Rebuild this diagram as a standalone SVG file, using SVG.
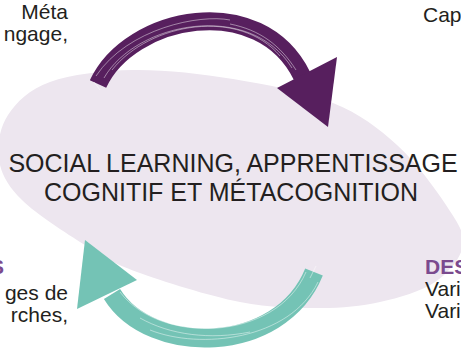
<svg xmlns="http://www.w3.org/2000/svg" width="461" height="350" viewBox="0 0 461 350">
  <style>
    .txt { font-family: "Liberation Sans", Arial, sans-serif; fill: #231f20; }
    .side { font-size: 21px; }
    .head { font-family: "Liberation Sans", Arial, sans-serif; font-weight: bold; font-size: 21px; fill: #7b4a8e; }
    .center { font-size: 25px; text-anchor: middle; }
    .purple { stroke: #571f5e; fill: none; stroke-width: 18; }
    .purpleHead { fill: #571f5e; }
    .teal { stroke: #74c3b5; fill: none; stroke-width: 19; }
    .tealHead { fill: #74c3b5; }
    .streak { stroke: #ffffff; fill: none; stroke-width: 1; stroke-opacity: 0.45; }
  </style>

  <g id="center-node">
    <path fill="#ede6ef" d="M133,70 C163.5,69.5 199.7,73.5 233,79 C266.3,84.5 305.7,92 333,103 C360.3,114 378.2,128 397,145 C415.8,162 435,188.3 446,205 C457,221.7 464.8,232.2 463,245 C461.2,257.8 448.8,272.5 435,282 C421.2,291.5 399.2,297.7 380,302 C360.8,306.3 343.3,308 320,308 C296.7,308 270.5,308 240,302 C209.5,296 162.8,281.5 137,272 C111.2,262.5 104.2,257 85,245 C65.8,233 36.3,214.2 22,200 C7.7,185.8 1.3,174.2 -1,160 C-3.3,145.8 -0.5,128 8,115 C16.5,102 29.2,89.5 50,82 C70.8,74.5 102.5,70.5 133,70 Z"/>
    <text class="txt center" x="233" y="172">SOCIAL LEARNING, APPRENTISSAGE</text>
    <text class="txt center" x="231" y="201">COGNITIF ET MÉTACOGNITION</text>
  </g>

  <g id="connectors">
    <g id="arrow-top">
      <path class="purple" d="M98,84 C130,15 260,-10 302,76"/>
      <path class="streak" d="M104,78 C136,22 250,0 292,68"/>
      <path class="streak" d="M112,70 C150,22 240,8 280,56"/>
      <path class="streak" d="M96,76 C128,28 200,14 230,20"/>
      <path class="streak" d="M230,24 C260,30 280,45 296,70"/>
      <line class="streak" x1="94" y1="82" x2="100" y2="90"/>
      <polygon class="purpleHead" points="277,88 337,57 328,127"/>
    </g>
    <g id="arrow-bottom">
      <path class="teal" d="M314,272 C280,356 150,356 112,294"/>
      <path class="streak" d="M306,272 C276,342 160,345 120,292"/>
      <path class="streak" d="M318,282 C290,340 200,350 150,330"/>
      <path class="streak" d="M140,318 C170,335 210,340 250,332"/>
      <line class="streak" x1="316" y1="266" x2="310" y2="278"/>
      <polygon class="tealHead" points="85,240 77,309 137,280"/>
    </g>
  </g>

  <g id="block-top-left">
    <text class="txt side" text-anchor="end" x="68" y="19">Méta</text>
    <text class="txt side" text-anchor="end" x="68" y="41">ngage,</text>
  </g>
  <g id="block-top-right">
    <text class="txt side" x="423" y="22">Cap</text>
  </g>
  <g id="block-bottom-left">
    <text class="head" text-anchor="end" x="4" y="274">S</text>
    <text class="txt side" text-anchor="end" x="68" y="300">ges de</text>
    <text class="txt side" text-anchor="end" x="68" y="322">rches,</text>
  </g>
  <g id="block-bottom-right">
    <text class="head" x="425" y="274">DES</text>
    <text class="txt side" x="425" y="296">Vari</text>
    <text class="txt side" x="425" y="318">Vari</text>
  </g>
</svg>
